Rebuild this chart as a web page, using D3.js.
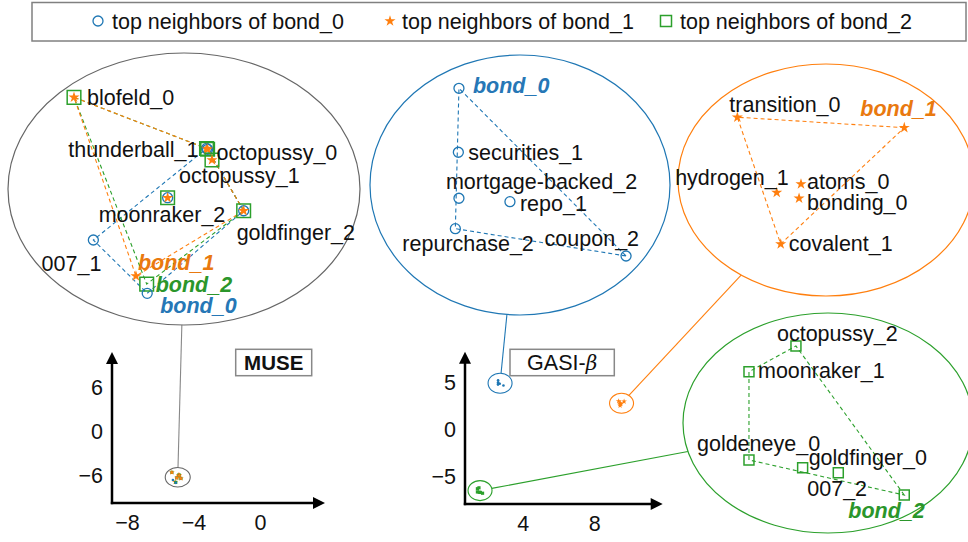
<!DOCTYPE html>
<html><head><meta charset="utf-8">
<script src="https://cdn.jsdelivr.net/npm/d3@7"></script>
<style>
html,body{margin:0;padding:0;background:#fff;}
svg{display:block;font-family:"Liberation Sans",Arial,Helvetica,sans-serif;}
</style></head>
<body>
<svg id="chart" width="968" height="542"></svg>
<script>
// ---------------- DATA ----------------
const senses = ["bond_0", "bond_1", "bond_2"];
const legendLabels = ["top neighbors of bond_0", "top neighbors of bond_1", "top neighbors of bond_2"];

// MUSE 2-D projection
const museXTicks = [-8, -4, 0];
const museYTicks = [-6, 0, 6];
const museClusterX = [-4.95];
const museClusterY = [-6.29];

// GASI-beta 2-D projection
const gasiXTicks = [4, 8];
const gasiYTicks = [-5, 0, 5];
const gasiClusterSense = ["bond_0", "bond_1", "bond_2"];
const gasiClusterX = [2.74, 9.53, 1.62];
const gasiClusterY = [4.97, 2.83, -6.49];

// zoomed MUSE neighbourhood (local coordinates, -1..1)
const museWords = ["blofeld_0", "thunderball_1", "octopussy_0", "octopussy_1", "moonraker_2", "goldfinger_2", "007_1", "bond_1", "bond_2", "bond_0"];
const museX = [-0.625, 0.128, 0.134, 0.159, -0.093, 0.339, -0.515, -0.273, -0.212, -0.209];
const museY = [0.674, 0.298, 0.292, 0.213, -0.064, -0.160, -0.375, -0.640, -0.699, -0.767];
const museMember = [[1, 2], [0, 1, 2], [0, 1, 2], [1, 2], [0, 1, 2], [0, 1, 2], [0], [1], [2], [0]];

// zoomed GASI-beta neighbourhoods
const gasi0Words = ["bond_0", "securities_1", "mortgage-backed_2", "repo_1", "repurchase_2", "coupon_2"];
const gasi0X = [-0.407, -0.411, -0.407, -0.067, -0.431, 0.707];
const gasi0Y = [0.744, 0.252, -0.102, -0.128, -0.336, -0.546];

const gasi1Words = ["transition_0", "bond_1", "hydrogen_1", "atoms_0", "bonding_0", "covalent_1"];
const gasi1X = [-0.599, 0.529, -0.333, -0.169, -0.182, -0.306];
const gasi1Y = [0.541, 0.451, -0.109, -0.034, -0.158, -0.552];

const gasi2Words = ["octopussy_2", "moonraker_1", "goldeneye_0", "goldfinger_0", "007_2", "bond_2"];
const gasi2X = [-0.221, -0.545, -0.545, -0.175, 0.071, 0.526];
const gasi2Y = [0.700, 0.466, -0.336, -0.406, -0.452, -0.655];

// ---------------- STYLE / LAYOUT ----------------
const colors = ["#1f77b4", "#ff7f0e", "#2ca02c"];
const boldColors = ["#2677b6", "#e9790f", "#2b962b"];
const FONT = 21.5;

// label offsets [dx, dy, anchor]
const labelLayout = {
  muse: {
    "blofeld_0": [13, 0, "start"], "thunderball_1": [-8, 1, "end"], "octopussy_0": [9, 3, "start"],
    "octopussy_1": [-33, 15, "start"], "moonraker_2": [-69, 17, "start"], "goldfinger_2": [-7, 22, "start"],
    "007_1": [8, 23, "end"], "bond_1": [2, -14, "start"], "bond_2": [9, 0, "start"], "bond_0": [13, 12, "start"]
  },
  g0: {
    "bond_0": [14, -3, "start"], "securities_1": [10, 0, "start"], "mortgage-backed_2": [-13, -17, "start"],
    "repo_1": [10, 2, "start"], "repurchase_2": [-53, 15, "start"], "coupon_2": [13, -18, "end"]
  },
  g1: {
    "transition_0": [-8, -13, "start"], "bond_1": [-44, -19, "start"], "hydrogen_1": [12, -15, "end"],
    "atoms_0": [6, -2, "start"], "bonding_0": [8, 4, "start"], "covalent_1": [8, -1, "start"]
  },
  g2: {
    "octopussy_2": [-19, -13, "start"], "moonraker_1": [9, -1, "start"], "goldeneye_0": [-52, -16, "start"],
    "goldfinger_0": [6, -10, "start"], "007_2": [-31, 16, "start"], "bond_2": [-56, 15, "start"]
  }
};

const svg = d3.select("#chart");

// ---------------- LEGEND ----------------
svg.append("rect").attr("x", 32).attr("y", 2.5).attr("width", 934).attr("height", 38.5)
  .attr("fill", "none").attr("stroke", "#808080").attr("stroke-width", 1.5);
const legendX = [98, 390, 666];
function drawMarker(g, k, x, y, scale) {
  scale = scale || 1;
  if (k === 0) {
    g.append("circle").attr("cx", x).attr("cy", y).attr("r", 5 * scale)
      .attr("fill", "none").attr("stroke", colors[0]).attr("stroke-width", scale < 0.5 ? 0.8 : 1.3);
  } else if (k === 1) {
    g.append("path").attr("d", d3.symbol(d3.symbolStar, 38 * scale * scale)())
      .attr("transform", `translate(${x},${y})`).attr("fill", colors[1]);
  } else {
    g.append("path").attr("d", d3.symbol(d3.symbolSquare, 110 * scale * scale)())
      .attr("transform", `translate(${x},${y})`).attr("fill", "none")
      .attr("stroke", colors[2]).attr("stroke-width", scale < 0.5 ? 0.8 : 1.5);
  }
}
legendLabels.forEach((lab, i) => {
  const g = svg.append("g");
  drawMarker(g, i, legendX[i], 21, i === 2 ? 1.05 : 1);
  g.append("text").attr("x", legendX[i] + (i === 1 ? 12 : 14)).attr("y", 21).attr("dy", "0.35em")
    .attr("font-size", FONT).attr("fill", "#111").text(lab);
});

// ---------------- AXES ----------------
function drawAxes(x0, y0, xTip, yTip, xs, ys, xt, yt) {
  const g = svg.append("g");
  const fmt = d => d < 0 ? "\u2212" + Math.abs(d) : String(d);
  const ay = g.append("g").attr("transform", `translate(${x0},0)`)
    .call(d3.axisLeft(ys).tickValues(yt).tickSize(0).tickPadding(9).tickFormat(fmt));
  const ax = g.append("g").attr("transform", `translate(0,${y0})`)
    .call(d3.axisBottom(xs).tickValues(xt).tickSize(0).tickPadding(12).tickFormat(fmt));
  [ay, ax].forEach(a => {
    a.select(".domain").remove();
    a.attr("font-size", FONT).attr("font-family", null);
    a.selectAll("text").attr("fill", "#111");
  });
  g.append("line").attr("x1", x0).attr("y1", y0 + 1.2).attr("x2", x0).attr("y2", yTip + 6)
    .attr("stroke", "#000").attr("stroke-width", 2.5);
  g.append("line").attr("x1", x0 - 1.2).attr("y1", y0).attr("x2", xTip - 6).attr("y2", y0)
    .attr("stroke", "#000").attr("stroke-width", 2.5);
  g.append("path").attr("d", `M${x0 - 6},${yTip + 12}L${x0},${yTip}L${x0 + 6},${yTip + 12}Z`).attr("fill", "#000");
  g.append("path").attr("d", `M${xTip - 12},${y0 - 6}L${xTip},${y0}L${xTip - 12},${y0 + 6}Z`).attr("fill", "#000");
}

// MUSE axes
const museXs = d3.scaleLinear().domain([-8.9, 3.9]).range([112, 325]);
const museYs = d3.scaleLinear().domain([-9.8, 10.8]).range([503, 352]);
drawAxes(112, 503, 325, 352, museXs, museYs, museXTicks, museYTicks);

// GASI axes
const gasiXs = d3.scaleLinear().domain([0.78, 11.83]).range([465, 662.7]);
const gasiYs = d3.scaleLinear().domain([-7.92, 8.34]).range([504, 351.7]);
drawAxes(465, 504, 662.7, 351.7, gasiXs, gasiYs, gasiXTicks, gasiYTicks);

// method boxes
function methodBox(x, y, w, h, build) {
  svg.append("rect").attr("x", x).attr("y", y).attr("width", w).attr("height", h)
    .attr("fill", "#fff").attr("stroke", "#888").attr("stroke-width", 1.5);
  const t = svg.append("text").attr("x", x + w / 2).attr("y", y + h / 2).attr("dy", "0.36em")
    .attr("text-anchor", "middle").attr("fill", "#111");
  build(t);
}
methodBox(235.7, 349.3, 76, 26.4, t => t.attr("font-size", 20.5).attr("font-weight", "bold").text("MUSE"));
methodBox(510, 349.3, 104.3, 26.4, t => {
  t.attr("font-size", 21.5);
  t.append("tspan").text("GASI-");
  t.append("tspan").attr("font-style", "italic").attr("font-family", "'DejaVu Serif', serif").attr("font-size", 20).text("\u03B2");
});

// ---------------- INSETS ----------------
function buildPoints(words, xs, ys, member) {
  return words.map((w, i) => ({ word: w, x: xs[i], y: ys[i], member: member[i] }));
}
const museInset = buildPoints(museWords, museX, museY, museMember);
const g0Inset = buildPoints(gasi0Words, gasi0X, gasi0Y, gasi0Words.map(() => [0]));
const g1Inset = buildPoints(gasi1Words, gasi1X, gasi1Y, gasi1Words.map(() => [1]));
const g2Inset = buildPoints(gasi2Words, gasi2X, gasi2Y, gasi2Words.map(() => [2]));

function drawInset(cfg) {
  const { pts, cx, cy, rx, ry, stroke, layout, small, attachAngle, miniScale, connColor } = cfg;
  const xs = d3.scaleLinear().domain([-1, 1]).range([cx - rx, cx + rx]);
  const ys = d3.scaleLinear().domain([-1, 1]).range([cy + ry, cy - ry]);
  const g = svg.append("g");
  // connector
  const t = attachAngle * Math.PI / 180;
  const bx = cx + rx * Math.cos(t), by = cy + ry * Math.sin(t);
  const dx = bx - small.x, dy = by - small.y;
  const k = 1 / Math.sqrt((dx / small.rx) ** 2 + (dy / small.ry) ** 2);
  g.append("line").attr("x1", small.x + dx * k).attr("y1", small.y + dy * k).attr("x2", bx).attr("y2", by)
    .attr("stroke", connColor).attr("stroke-width", 1.1);
  // small ellipse + miniature
  g.append("ellipse").attr("cx", small.x).attr("cy", small.y).attr("rx", small.rx).attr("ry", small.ry)
    .attr("fill", "#fff").attr("stroke", stroke).attr("stroke-width", 1.1);
  const mxs = d3.scaleLinear().domain([-1, 1]).range([small.x - small.rx * miniScale, small.x + small.rx * miniScale]);
  const mys = d3.scaleLinear().domain([-1, 1]).range([small.y + small.ry * miniScale, small.y - small.ry * miniScale]);
  pts.forEach(p => {
    [2, 0, 1].forEach(kk => {
      if (p.member.includes(kk)) {
        if (kk === 0) g.append("circle").attr("cx", mxs(p.x)).attr("cy", mys(p.y)).attr("r", 1.3).attr("fill", colors[0]);
        else if (kk === 1) g.append("path").attr("d", d3.symbol(d3.symbolStar, 10)()).attr("transform", `translate(${mxs(p.x)},${mys(p.y)})`).attr("fill", colors[1]);
        else g.append("rect").attr("x", mxs(p.x) - 1.6).attr("y", mys(p.y) - 1.6).attr("width", 3.2).attr("height", 3.2).attr("fill", colors[2]);
      }
    });
  });
  // big ellipse
  g.append("ellipse").attr("cx", cx).attr("cy", cy).attr("rx", rx).attr("ry", ry)
    .attr("fill", "none").attr("stroke", stroke).attr("stroke-width", 1.2);
  // hulls
  [0, 2, 1].forEach(s => {
    const sp = pts.filter(p => p.member.includes(s)).map(p => [xs(p.x), ys(p.y)]);
    if (sp.length < 3) return;
    const hull = d3.polygonHull(sp);
    g.append("path").attr("d", "M" + hull.join("L") + "Z").attr("fill", "none")
      .attr("stroke", colors[s]).attr("stroke-width", 1.1).attr("stroke-dasharray", "4,3");
  });
  // markers
  pts.forEach(p => {
    const px = xs(p.x), py = ys(p.y);
    [2, 0, 1].forEach(kk => { if (p.member.includes(kk)) drawMarker(g, kk, px, py, cfg.markerScale ? cfg.markerScale[kk] : 1); });
  });
  // labels
  pts.forEach(p => {
    const L = layout[p.word];
    const si = senses.indexOf(p.word);
    const txt = g.append("text").attr("x", xs(p.x) + L[0]).attr("y", ys(p.y) + L[1]).attr("dy", "0.35em")
      .attr("text-anchor", L[2]).text(p.word);
    if (si >= 0) txt.attr("font-size", 21.5).attr("font-weight", "bold").attr("font-style", "italic").attr("fill", boldColors[si]);
    else txt.attr("font-size", FONT).attr("fill", "#111");
  });
}

drawInset({
  pts: museInset, cx: 184, cy: 189, rx: 176, ry: 136, stroke: "#666", connColor: "#888", layout: labelLayout.muse,
  small: { x: museXs(museClusterX[0]), y: museYs(museClusterY[0]), rx: 12.5, ry: 9.7 }, attachAngle: 90.7, miniScale: 0.75,
  markerScale: [1, 1, 1.3]
});
const gInsets = [
  { pts: g0Inset, cx: 520, cy: 185, rx: 150, ry: 130, layout: labelLayout.g0, attachAngle: 95 },
  { pts: g1Inset, cx: 826, cy: 180, rx: 148, ry: 116, layout: labelLayout.g1, attachAngle: 125 },
  { pts: g2Inset, cx: 828, cy: 423, rx: 145, ry: 110, layout: labelLayout.g2, attachAngle: 165 }
];
gInsets.forEach((c, i) => {
  drawInset(Object.assign({}, c, {
    stroke: colors[i], connColor: colors[i],
    small: { x: gasiXs(gasiClusterX[i]), y: gasiYs(gasiClusterY[i]), rx: 12, ry: 10 }, miniScale: 0.4,
    markerScale: [1, 1, 0.95]
  }));
});
</script>
</body></html>
